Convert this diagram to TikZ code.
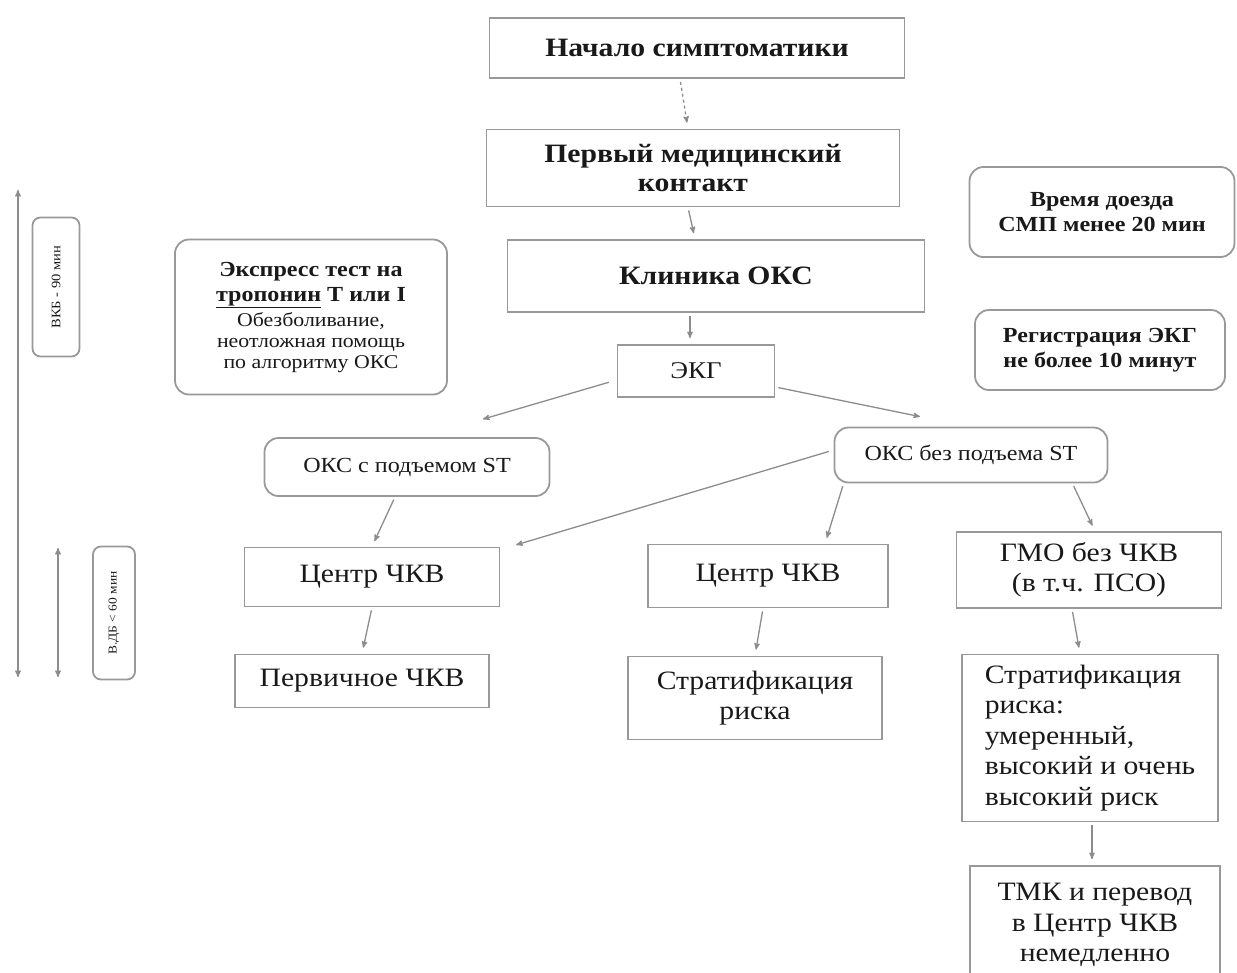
\documentclass[tikz,border=0pt]{standalone}
\usepackage{fontspec}
\setmainfont{Liberation Serif}[FakeStretch=1.12]
\usetikzlibrary{arrows,positioning}

\newcommand{\tropfont}{\fontsize{21.5}{25}\selectfont\bfseries}

\begin{document}
\begin{tikzpicture}[x=1pt,y=-1pt,->,>=stealth',shorten >=6pt,shorten <=3pt,
                    line width=1.3pt]
	\tikzstyle{every edge}=[draw=black!45]
	\tikzstyle{box}=[draw=black!40,line width=1.8pt,align=center,inner sep=0pt,text=black!90]
	\tikzstyle{rbox}=[box,rounded corners=14pt]
	\tikzstyle{head}=[font=\fontsize{26.5}{29}\selectfont\bfseries]
	\tikzstyle{note}=[font=\fontsize{21.5}{25}\selectfont\bfseries]
	\tikzstyle{plain}=[font=\fontsize{26.5}{30.5}\selectfont]
	\clip (0,0) rectangle (1237,972);

	\node[box,head] (start) [minimum width=415,minimum height=60] at (697,48) {Начало симптоматики};
	\node[box,head] (fmc)   [minimum width=413,minimum height=77] at (693,168) {Первый медицинский \\ контакт};
	\node[box,head] (clin)  [minimum width=417,minimum height=72] at (716,276) {Клиника ОКС};
	\node[box,plain,font=\fontsize{24}{28}\selectfont] (ekg)  [minimum width=157,minimum height=52] at (696,371) {ЭКГ};

	\node[rbox,font=\fontsize{19.5}{21}\selectfont] (troponin) [minimum width=272,minimum height=155] at (311,317) {\tropfont Экспресс тест на \\[4pt] \tropfont \underline{тропонин} Т или I \\[4pt] Обезболивание, \\ неотложная помощь \\ по алгоритму ОКС};
	\node[rbox,note] (smp) [minimum width=265,minimum height=90] at (1102,212) {Время доезда \\ СМП менее 20 мин};
	\node[rbox,note] (reg) [minimum width=250,minimum height=80] at (1100,350) {Регистрация ЭКГ \\ не более 10 минут};

	\node[rbox,font=\fontsize{21.5}{24}\selectfont] (okss) [minimum width=285,minimum height=58] at (407,467) {ОКС с подъемом ST};
	\node[rbox,font=\fontsize{21.5}{24}\selectfont] (oksb) [minimum width=273,minimum height=55] at (971,455) {ОКС без подъема ST};

	\node[box,plain] (pciL)   [minimum width=255,minimum height=59] at (372,577) {Центр ЧКВ};
	\node[box,plain] (pciM)   [minimum width=240,minimum height=63] at (768,576) {Центр ЧКВ};
	\node[box,plain] (gmo)    [minimum width=265,minimum height=76] at (1089,570) {ГМО без ЧКВ \\ (в т.ч. ПСО)};
	\node[box,plain] (prim)   [minimum width=254,minimum height=53] at (362,681) {Первичное ЧКВ};
	\node[box,plain] (stratM) [minimum width=254,minimum height=83] at (755,698) {Стратификация \\ риска};
	\node[box,plain,align=left] (stratR) [minimum width=256,minimum height=167] at (1090,738) {Стратификация \\ риска: \\ умеренный, \\ высокий и очень \\ высокий риск};
	\node[box,plain] (tmk)    [minimum width=250,minimum height=118] at (1095,925) {ТМК и перевод \\ в Центр ЧКВ \\ немедленно};

	\node[box,rounded corners=8pt,font=\fontsize{13}{15}\selectfont,rotate=90] (vkb) [minimum width=139,minimum height=47] at (56,287) {ВКБ - 90 мин};
	\node[box,rounded corners=8pt,font=\fontsize{12}{14}\selectfont,rotate=90] (vdb) [minimum width=133,minimum height=42] at (114,613) {В.ДБ < 60 мин};

	\coordinate (longtop) at (18,190);
	\coordinate (longbot) at (18,677);
	\coordinate (shorttop) at (58,548);
	\coordinate (shortbot) at (58,677);

	\path ([xshift=-17]start.south) edge [dashed] ([xshift=-5]fmc.north)
				([xshift=-5]fmc.south) edge ([xshift=-21]clin.north)
				([xshift=-26]clin.south) edge ([xshift=-6]ekg.north)
				([yshift=-9]ekg.west) edge [shorten <=8pt,shorten >=0pt] ([xshift=76,yshift=18]okss.north)
				([yshift=-16]ekg.east) edge [shorten <=3pt,shorten >=0pt] ([xshift=-51,yshift=10]oksb.north)
				([xshift=-12]okss.south) edge (pciL.north)
				([yshift=5]oksb.west) edge [shorten <=5pt] ([xshift=10]pciL.north east)
				([xshift=10]oksb.south west) edge ([xshift=57]pciM.north)
				([xshift=-36]oksb.south east) edge ([xshift=6]gmo.north)
				(pciL.south) edge (prim.north)
				([xshift=-5]pciM.south) edge (stratM.north)
				([xshift=-17]gmo.south) edge ([xshift=-10]stratR.north)
				([xshift=2]stratR.south) edge ([xshift=-3]tmk.north)
				(longtop) edge [<->,shorten <=0pt,shorten >=0pt] (longbot)
				(shorttop) edge [<->,shorten <=0pt,shorten >=0pt] (shortbot);
\end{tikzpicture}
\end{document}
